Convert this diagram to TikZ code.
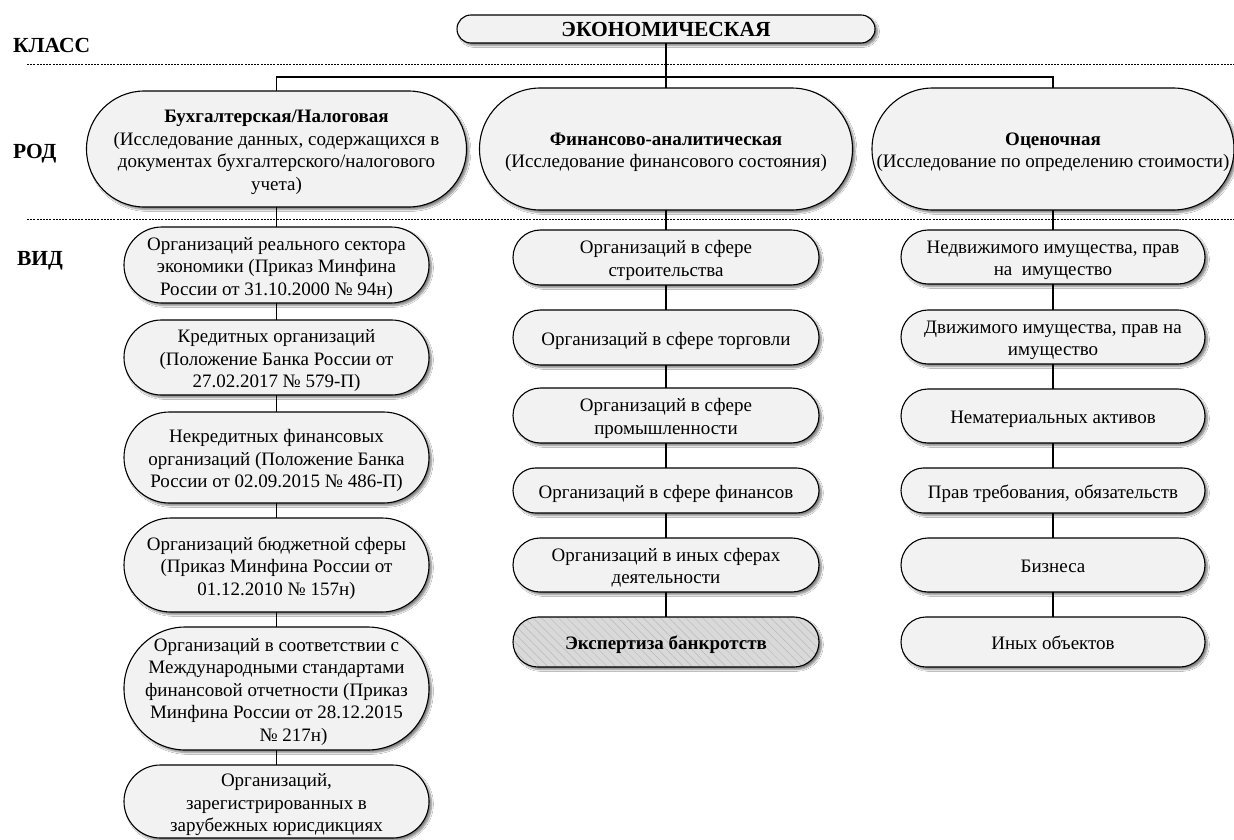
\documentclass[tikz,border=0pt]{standalone}
\usepackage{fontspec}
\setmainfont{Liberation Serif}
\usetikzlibrary{shadows.blur,patterns.meta}
\definecolor{boxfill}{HTML}{F2F2F2}
\definecolor{hatchbg}{HTML}{D9D9D9}
\newcommand{\boxtext}[1]{\raisebox{-3pt}[\height][\depth]{\begin{tabular}{@{}c@{}}#1\end{tabular}}}
\begin{document}
\begin{tikzpicture}[x=1pt,y=-1pt,
  every node/.style={inner sep=0pt, outer sep=0pt},
  pill/.style 2 args={draw=black, line width=1.1pt, fill=boxfill,
     minimum width=#1pt, minimum height=#2pt, rounded corners=#2*0.499pt,
     blur shadow={shadow xshift=2.5pt, shadow yshift=-2.5pt, shadow blur steps=6, shadow opacity=50},
     font=\fontsize{19}{22.5}\selectfont},
  hatched/.style={preaction={fill=hatchbg}, pattern={Lines[angle=-45,distance=6pt,line width=0.45pt]}, pattern color=gray!55},
  lab/.style={anchor=base west, font=\bfseries\fontsize{21.5}{24}\selectfont},
  divider/.style={line width=0.9pt, dash pattern=on 2pt off 1.2pt},
  conn/.style={line width=1.1pt}
]
\fill[white] (0,0) rectangle (1234,840);
\useasboundingbox (0,0) rectangle (1234,840);

% level labels
\node[lab] (klass) at (13,53) {КЛАСС};
\node[lab] (rod) at (13,158) {РОД};
\node[lab] (vid) at (17,265) {ВИД};
\coordinate (d1a) at (27,64);  \coordinate (d1b) at (1234,64);
\coordinate (d2a) at (27,219); \coordinate (d2b) at (1234,219);
\draw[divider] (d1a) -- (d1b);
\draw[divider] (d2a) -- (d2b);

% class
\node[pill={418}{28}, font=\bfseries\fontsize{21.5}{24}\selectfont] (ekon) at (666,29) {ЭКОНОМИЧЕСКАЯ};

% genera
\node[pill={380}{116}] (buh) at (276.5,149) {\boxtext{\textbf{Бухгалтерская/Налоговая}\\(Исследование данных, содержащихся в\\документах бухгалтерского/налогового\\учета)}};
\node[pill={373}{122}] (fin) at (666,149) {\boxtext{\textbf{Финансово-аналитическая}\\(Исследование финансового состояния)}};
\node[pill={362}{122}] (ots) at (1053,149) {\boxtext{\textbf{Оценочная}\\(Исследование по определению стоимости)}};

% column 1
\node[pill={305}{76}] (a1) at (276.5,265) {\boxtext{Организаций реального сектора\\экономики (Приказ Минфина\\России от 31.10.2000 № 94н)}};
\node[pill={305}{75}] (a2) at (276.5,357.5) {\boxtext{Кредитных организаций\\(Положение Банка России от\\27.02.2017 № 579-П)}};
\node[pill={305}{91}] (a3) at (276.5,457.5) {\boxtext{Некредитных финансовых\\организаций (Положение Банка\\России от 02.09.2015 № 486-П)}};
\node[pill={305}{94}] (a4) at (276.5,565) {\boxtext{Организаций бюджетной сферы\\(Приказ Минфина России от\\01.12.2010 № 157н)}};
\node[pill={305}{123}] (a5) at (276.5,688.5) {\boxtext{Организаций в соответствии с\\Международными стандартами\\финансовой отчетности (Приказ\\Минфина России от 28.12.2015\\\hspace*{34pt}№ 217н)}};
\node[pill={305}{73}] (a6) at (276.5,801.5) {\boxtext{Организаций,\\зарегистрированных в\\зарубежных юрисдикциях}};

% column 2
\node[pill={306}{55}] (b1) at (666,257.5) {\boxtext{Организаций в сфере\\строительства}};
\node[pill={306}{55}] (b2) at (666,337.5) {\boxtext{Организаций в сфере торговли}};
\node[pill={306}{55}] (b3) at (666,415.5) {\boxtext{Организаций в сфере\\промышленности}};
\node[pill={306}{45}] (b4) at (666,490.5) {\boxtext{Организаций в сфере финансов}};
\node[pill={306}{54}] (b5) at (666,565) {\boxtext{Организаций в иных сферах\\деятельности}};
\node[pill={306}{50}, hatched] (b6) at (666,642) {\boxtext{\textbf{Экспертиза банкротств}}};

% column 3
\node[pill={304}{54}] (c1) at (1053,257) {\boxtext{Недвижимого имущества, прав\\на\ \ имущество}};
\node[pill={304}{54}] (c2) at (1053,337) {\boxtext{Движимого имущества, прав на\\имущество}};
\node[pill={304}{54}] (c3) at (1053,416) {\boxtext{Нематериальных активов}};
\node[pill={304}{45}] (c4) at (1053,490.5) {\boxtext{Прав требования, обязательств}};
\node[pill={304}{54}] (c5) at (1053,565) {\boxtext{Бизнеса}};
\node[pill={304}{50}] (c6) at (1053,642) {\boxtext{Иных объектов}};

% connectors
\coordinate (bus) at (666,77);
\draw[conn] (ekon.south) -- (fin.north);
\draw[conn] (buh.north) |- (bus) -| (ots.north);
\draw[conn] (buh.south) -- (a1.north);
\draw[conn] (a1.south) -- (a2.north);
\draw[conn] (a2.south) -- (a3.north);
\draw[conn] (a3.south) -- (a4.north);
\draw[conn] (a4.south) -- (a5.north);
\draw[conn] (a5.south) -- (a6.north);
\draw[conn] (fin.south) -- (b1.north);
\draw[conn] (b1.south) -- (b2.north);
\draw[conn] (b2.south) -- (b3.north);
\draw[conn] (b3.south) -- (b4.north);
\draw[conn] (b4.south) -- (b5.north);
\draw[conn] (b5.south) -- (b6.north);
\draw[conn] (ots.south) -- (c1.north);
\draw[conn] (c1.south) -- (c2.north);
\draw[conn] (c2.south) -- (c3.north);
\draw[conn] (c3.south) -- (c4.north);
\draw[conn] (c4.south) -- (c5.north);
\draw[conn] (c5.south) -- (c6.north);
\end{tikzpicture}
\end{document}
